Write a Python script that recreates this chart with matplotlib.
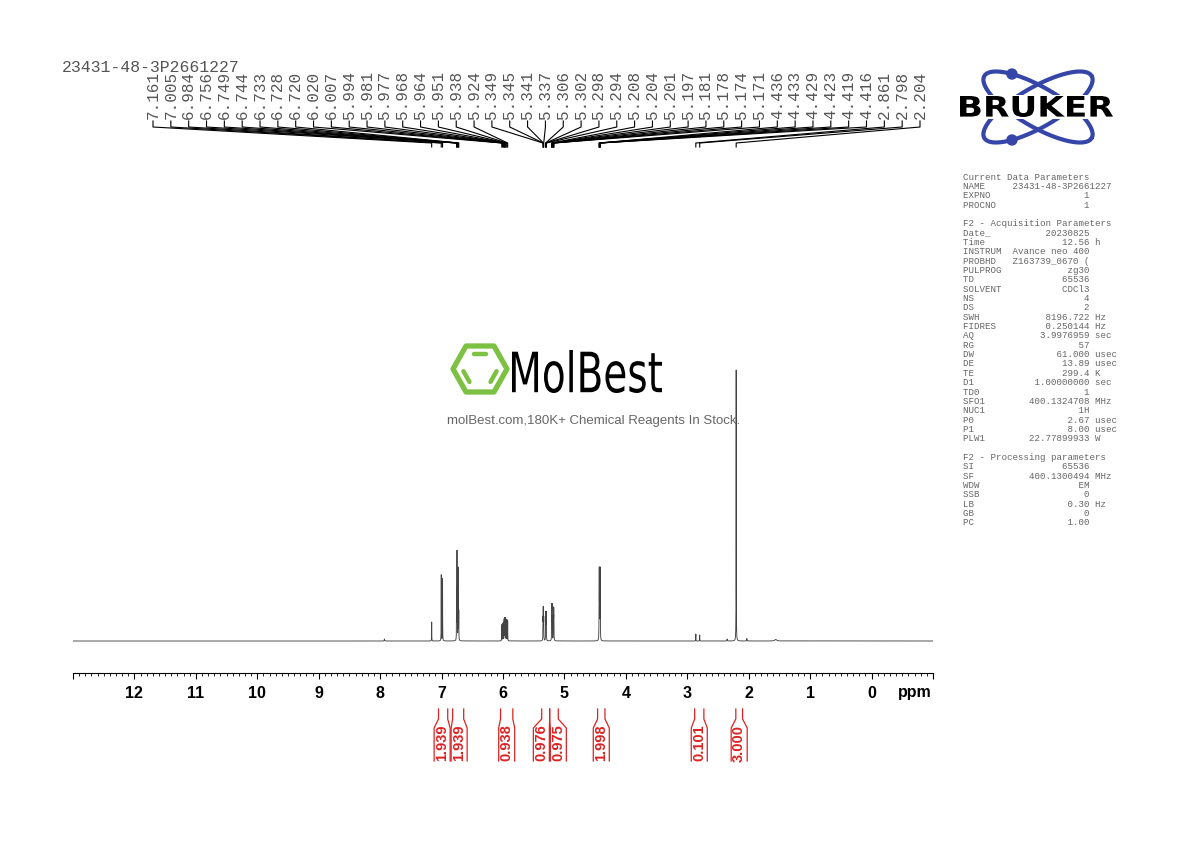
import numpy as np
import matplotlib
matplotlib.use("Agg")
import matplotlib.pyplot as plt
from matplotlib.textpath import TextPath
from matplotlib.patches import PathPatch, Polygon, Circle
from matplotlib.font_manager import FontProperties
from matplotlib.transforms import Affine2D

W, H = 1190, 842

# ---------------- data ----------------
sample_name = "23431-48-3P2661227"

peak_ppm = [7.161, 7.005, 6.984, 6.756, 6.749, 6.744, 6.733, 6.728, 6.720,
            6.020, 6.007, 5.994, 5.981, 5.977, 5.968, 5.964, 5.951, 5.938, 5.924,
            5.349, 5.345, 5.341, 5.337, 5.306, 5.302, 5.298, 5.294,
            5.208, 5.204, 5.201, 5.197, 5.181, 5.178, 5.174, 5.171,
            4.436, 4.433, 4.429, 4.423, 4.419, 4.416,
            2.861, 2.798, 2.204]
peak_int = [19, 66, 62, 35, 85, 45, 25, 70, 28,
            16, 17, 18, 19, 19, 20, 20, 21, 21, 20,
            20, 28, 28, 20, 17, 24, 24, 17,
            20, 28, 28, 20, 18, 26, 26, 18,
            38, 60, 38, 38, 60, 38,
            7, 6, 271]

minor_ppm = [7.93, 2.35, 2.03, 1.56]
minor_int = [2.0, 2.0, 2.5, 1.5]
minor_width = [0.003, 0.003, 0.003, 0.02]

int_left = [7.05, 6.82, 6.04, 5.37, 5.24, 4.46, 2.88, 2.21]
int_right = [6.90, 6.64, 5.84, 5.24, 5.10, 4.34, 2.73, 2.10]
int_values = ["1.939", "1.939", "0.938", "0.976", "0.975", "1.998", "0.101", "3.000"]

tick_values = list(range(-1, 14))
tick_labels = ["" if (v < 0 or v > 12) else str(v) for v in tick_values]

param_names = ["Current Data Parameters", "NAME", "EXPNO", "PROCNO", "",
               "F2 - Acquisition Parameters", "Date_", "Time", "INSTRUM", "PROBHD",
               "PULPROG", "TD", "SOLVENT", "NS", "DS", "SWH", "FIDRES", "AQ", "RG",
               "DW", "DE", "TE", "D1", "TD0", "SFO1", "NUC1", "P0", "P1", "PLW1", "",
               "F2 - Processing parameters", "SI", "SF", "WDW", "SSB", "LB", "GB", "PC"]
param_values = [None, "23431-48-3P2661227", "1", "1", None,
                None, "20230825", "12.56", "Avance neo 400", "Z163739_0670 (",
                "zg30", "65536", "CDCl3", "4", "2", "8196.722", "0.250144", "3.9976959", "57",
                "61.000", "13.89", "299.4", "1.00000000", "1", "400.1324708", "1H", "2.67", "8.00",
                "22.77899933", None,
                None, "65536", "400.1300494", "EM", "0", "0.30", "0", "1.00"]
param_units = ["", "", "", "", "",
               "", "", "h", "", "",
               "", "", "", "", "", "Hz", "Hz", "sec", "",
               "usec", "usec", "K", "sec", "", "MHz", "", "usec", "usec", "W", "",
               "", "", "MHz", "", "", "Hz", "", ""]

# ---------------- figure ----------------
plt.rcParams['font.family'] = ['Liberation Sans', 'DejaVu Sans']
fig = plt.figure(figsize=(W / 100, H / 100), dpi=100)

ax = fig.add_axes([73 / W, (H - 673) / H, 860 / W, (673 - 150) / H])
ax.set_xlim(13, -1)
ax.set_ylim(-32, 491)

x = np.linspace(-1, 13, 280001)
y = np.zeros_like(x)
hw = 0.0015
for p, h in zip(peak_ppm, peak_int):
    y += h / (1 + ((x - p) / hw) ** 2)
for p, h, w in zip(minor_ppm, minor_int, minor_width):
    y += h / (1 + ((x - p) / w) ** 2)
ax.plot(x, y, color='#444444', lw=0.65)

for s in ['top', 'left', 'right']:
    ax.spines[s].set_visible(False)
ax.spines['bottom'].set_linewidth(0.8)
ax.set_yticks([])
ax.set_xticks(tick_values, tick_labels, fontweight='bold', fontsize=11.5)
ax.set_xticks(np.arange(-1, 13.001, 0.1), minor=True)
ax.tick_params(axis='x', which='major', direction='out', length=4.5, width=0.8, pad=4.5)
ax.tick_params(axis='x', which='minor', direction='out', length=2.2, width=0.6)
ax.patch.set_alpha(0)

# overlay in pixel coordinates (y downward)
ov = fig.add_axes([0, 0, 1, 1], zorder=5)
ov.set_xlim(0, W)
ov.set_ylim(H, 0)
ov.axis('off')
ov.patch.set_alpha(0)

ov.text(915, 693, "ppm", ha='center', va='center', fontsize=11.5, fontweight='bold')

fig.canvas.draw()


def ppm_to_px(vals):
    vals = np.asarray(vals, dtype=float)
    return ax.transData.transform(np.column_stack([vals, np.zeros_like(vals)]))[:, 0]


# title
ov.text(62, 68, sample_name, ha='left', va='center', family='Liberation Mono',
        fontsize=11.9, color='#555555')

# peak labels
peak_px = ppm_to_px(peak_ppm)
label_x = np.linspace(153, 920, len(peak_ppm))
for lx, px, p in zip(label_x, peak_px, peak_ppm):
    ov.text(lx, 119, f"{p:.3f}", rotation=90, ha='center', va='bottom',
            family='Liberation Mono', fontsize=11.5, color='#555555')
    ov.plot([lx, lx, px, px], [121, 127, 143, 147], color='black', lw=0.8)

# integrals
red = '#dd2222'
xl = ppm_to_px(int_left)
xr = ppm_to_px(int_right)
centers = list((xl + xr) / 2)
gap = 17
for _ in range(20):
    for i in range(len(centers) - 1):
        d = centers[i + 1] - centers[i]
        if d < gap:
            shift = (gap - d) / 2
            centers[i] -= shift
            centers[i + 1] += shift
for a, b, c, v in zip(xl, xr, centers, int_values):
    ov.plot([a, a, c - 8, c - 8], [709, 719, 728, 761], color=red, lw=0.9)
    ov.plot([b, b, c + 8, c + 8], [709, 719, 728, 761], color=red, lw=0.9)
    ov.text(c, 743, v, rotation=90, ha='center', va='center', color=red,
            fontsize=10.5, fontweight='bold')

# parameter panel
for i, (n, v, u) in enumerate(zip(param_names, param_values, param_units)):
    if v is None:
        line = n
    elif len(v) > 15:
        line = f"{n:<9}{v}"
    else:
        line = f"{n:<8}{v:>15}" + (f" {u}" if u else "")
    ov.text(963, 177 + i * 9.35, line, ha='left', va='center', family='Liberation Mono',
            fontsize=6.55, color='#666666')


def text_box(s, x0, x1, y0, y1, prop, **kw):
    tp = TextPath((0, 0), s, size=100, prop=prop)
    bb = tp.get_extents()
    sx = (x1 - x0) / bb.width
    sy = (y1 - y0) / bb.height
    tr = Affine2D().translate(-bb.x0, -bb.y0).scale(sx, -sy).translate(x0, y1)
    ov.add_patch(PathPatch(tr.transform_path(tp), lw=0, **kw))


# Bruker logo
blue = '#3646a8'
cx, cy = 1038, 107
t = np.linspace(0, 2 * np.pi, 400)
ell = {}
for name, th in [('back', np.deg2rad(30)), ('fwd', np.deg2rad(-30))]:
    a, b = 62, 20
    ex = cx + a * np.cos(t) * np.cos(th) - b * np.sin(t) * np.sin(th)
    ey = cy + a * np.cos(t) * np.sin(th) + b * np.sin(t) * np.cos(th)
    ov.plot(ex, ey, color=blue, lw=3.0, solid_capstyle='round')
    ell[name] = (ex, ey)
ex, ey = ell['back']
m = ey < cy
idx = np.argmin(np.where(m, np.abs(ex - 1012), 1e9))
ov.add_patch(Circle((ex[idx], ey[idx]), 5, color=blue, zorder=6))
ex, ey = ell['fwd']
m = ey > cy
idx = np.argmin(np.where(m, np.abs(ex - 1012), 1e9))
ov.add_patch(Circle((ex[idx], ey[idx]), 5, color=blue, zorder=6))
ov.add_patch(plt.Rectangle((958, 95), 157, 24, color='white', zorder=6.5, lw=0))
text_box("BRUKER", 960, 1113, 96, 117,
         FontProperties(family='DejaVu Sans', weight='bold'), color='black', zorder=7)

# MolBest watermark
green = '#7cc142'
hcx, hcy = 480, 369
hex_pts = np.array([(453, 369), (466, 346), (494, 346), (507, 369), (494, 392), (466, 392)], float)
ov.add_patch(Polygon(hex_pts, closed=True, fill=False, edgecolor=green, lw=3.8, joinstyle='round'))
for i0, i1 in [(1, 2), (3, 4), (5, 0)]:
    p0 = np.array([hcx, hcy]) + 0.66 * (hex_pts[i0] - [hcx, hcy])
    p1 = np.array([hcx, hcy]) + 0.66 * (hex_pts[i1] - [hcx, hcy])
    mid = (p0 + p1) / 2
    q0 = mid + 0.7 * (p0 - mid)
    q1 = mid + 0.7 * (p1 - mid)
    ov.plot([q0[0], q1[0]], [q0[1], q1[1]], color=green, lw=3.2, solid_capstyle='round')
text_box("MolBest", 512, 662, 350, 393, FontProperties(family='DejaVu Sans', weight='normal'),
         color='black')
ov.text(594, 421, "molBest.com,180K+ Chemical Reagents In Stock.", ha='center', va='center',
        fontsize=9.5, color='#666666')

fig.savefig("out.png", dpi=100)
